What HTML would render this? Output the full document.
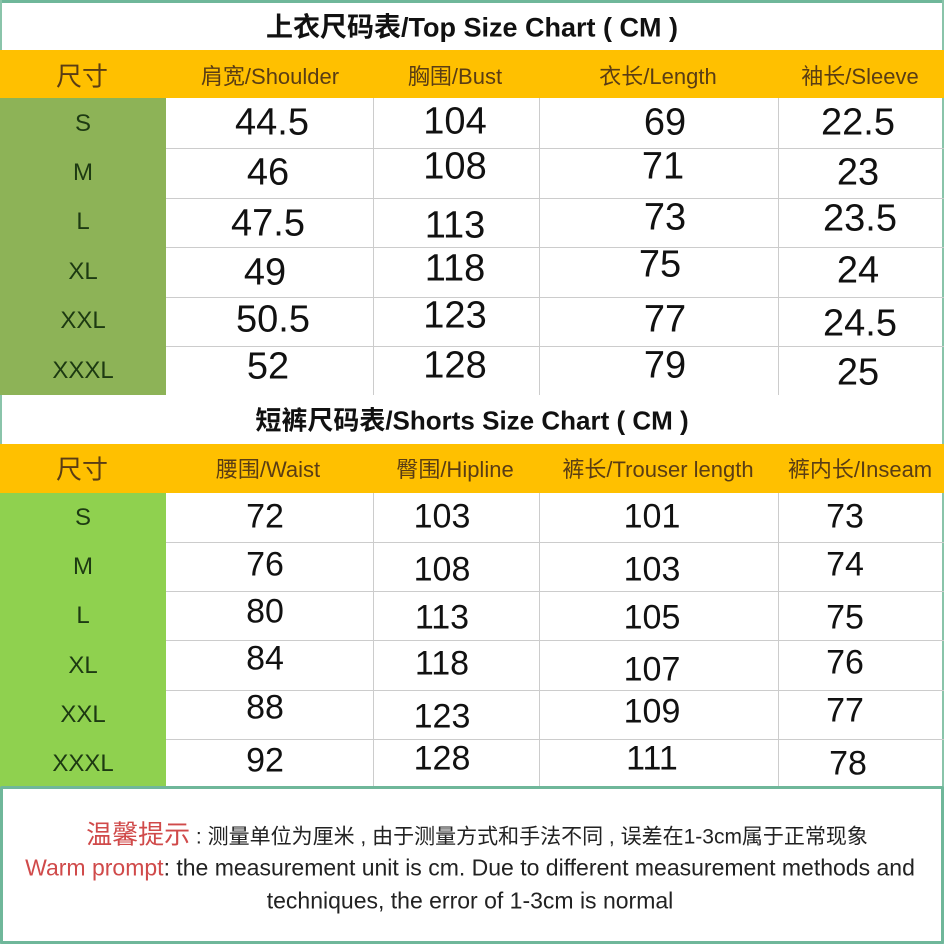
<!DOCTYPE html>
<html><head><meta charset="utf-8"><style>
body{margin:0;width:944px;height:944px;position:relative;background:#fff;overflow:hidden;font-family:"Liberation Sans","Noto Sans CJK SC",sans-serif}
.a{position:absolute;transform:translate(-50%,-50%);white-space:nowrap;color:#111}
.r{position:absolute}
.v{font-size:38px}
.w{font-size:34px}
.h{font-size:22px;color:#5a3d14}
.s{font-size:24px;color:#1d3a12}
</style></head><body>
<div class="r" style="left:0;top:0;width:944px;height:3px;background:#6fb79a"></div>
<div class="r" style="left:0;top:0;width:2px;height:944px;background:#8ac4aa"></div>
<div class="r" style="right:0;top:0;width:2px;height:944px;background:#8ac4aa"></div>
<div class="r" style="left:0;top:50px;width:944px;height:48px;background:#ffc000"></div>
<div class="r" style="left:0;top:98px;width:166px;height:297px;background:#8db357"></div>
<div class="r" style="left:0;top:444px;width:944px;height:49px;background:#ffc000"></div>
<div class="r" style="left:0;top:493px;width:166px;height:295px;background:#8fd14f"></div>
<div class="r" style="left:373px;top:98px;width:1px;height:297px;background:#ccc"></div>
<div class="r" style="left:539px;top:98px;width:1px;height:297px;background:#ccc"></div>
<div class="r" style="left:778px;top:98px;width:1px;height:297px;background:#ccc"></div>
<div class="r" style="left:373px;top:493px;width:1px;height:295px;background:#ccc"></div>
<div class="r" style="left:539px;top:493px;width:1px;height:295px;background:#ccc"></div>
<div class="r" style="left:778px;top:493px;width:1px;height:295px;background:#ccc"></div>
<div class="r" style="left:166px;top:148px;width:778px;height:1px;background:#ccc"></div>
<div class="r" style="left:166px;top:198px;width:778px;height:1px;background:#ccc"></div>
<div class="r" style="left:166px;top:247px;width:778px;height:1px;background:#ccc"></div>
<div class="r" style="left:166px;top:297px;width:778px;height:1px;background:#ccc"></div>
<div class="r" style="left:166px;top:346px;width:778px;height:1px;background:#ccc"></div>
<div class="r" style="left:166px;top:542px;width:778px;height:1px;background:#ccc"></div>
<div class="r" style="left:166px;top:591px;width:778px;height:1px;background:#ccc"></div>
<div class="r" style="left:166px;top:640px;width:778px;height:1px;background:#ccc"></div>
<div class="r" style="left:166px;top:690px;width:778px;height:1px;background:#ccc"></div>
<div class="r" style="left:166px;top:739px;width:778px;height:1px;background:#ccc"></div>

<div class="a" style="left:472px;top:25px;font-size:27px;font-weight:bold">上衣尺码表/Top Size Chart ( CM )</div>
<div class="a h" style="left:82px;top:75px;font-size:26px">尺寸</div>
<div class="a h" style="left:270px;top:75px">肩宽/Shoulder</div>
<div class="a h" style="left:455px;top:75px">胸围/Bust</div>
<div class="a h" style="left:658px;top:75px">衣长/Length</div>
<div class="a h" style="left:860px;top:75px">袖长/Sleeve</div>
<div class="a s" style="left:83px;top:124px">S</div>
<div class="a s" style="left:83px;top:173px">M</div>
<div class="a s" style="left:83px;top:222px">L</div>
<div class="a s" style="left:83px;top:272px">XL</div>
<div class="a s" style="left:83px;top:321px">XXL</div>
<div class="a s" style="left:83px;top:371px">XXXL</div>
<div class="a v" style="left:272px;top:123px">44.5</div><div class="a v" style="left:455px;top:122px">104</div><div class="a v" style="left:665px;top:123px">69</div><div class="a v" style="left:858px;top:123px">22.5</div>
<div class="a v" style="left:268px;top:173px">46</div><div class="a v" style="left:455px;top:167px">108</div><div class="a v" style="left:663px;top:167px">71</div><div class="a v" style="left:858px;top:173px">23</div>
<div class="a v" style="left:268px;top:224px">47.5</div><div class="a v" style="left:455px;top:226px">113</div><div class="a v" style="left:665px;top:218px">73</div><div class="a v" style="left:860px;top:219px">23.5</div>
<div class="a v" style="left:265px;top:273px">49</div><div class="a v" style="left:455px;top:269px">118</div><div class="a v" style="left:660px;top:265px">75</div><div class="a v" style="left:858px;top:271px">24</div>
<div class="a v" style="left:273px;top:320px">50.5</div><div class="a v" style="left:455px;top:316px">123</div><div class="a v" style="left:665px;top:320px">77</div><div class="a v" style="left:860px;top:324px">24.5</div>
<div class="a v" style="left:268px;top:367px">52</div><div class="a v" style="left:455px;top:366px">128</div><div class="a v" style="left:665px;top:366px">79</div><div class="a v" style="left:858px;top:373px">25</div>

<div class="a" style="left:472px;top:419px;font-size:26px;font-weight:bold">短裤尺码表/Shorts Size Chart ( CM )</div>
<div class="a h" style="left:82px;top:468px;font-size:26px">尺寸</div>
<div class="a h" style="left:268px;top:468px">腰围/Waist</div>
<div class="a h" style="left:455px;top:468px">臀围/Hipline</div>
<div class="a h" style="left:658px;top:468px">裤长/Trouser length</div>
<div class="a h" style="left:860px;top:468px">裤内长/Inseam</div>
<div class="a s" style="left:83px;top:518px">S</div>
<div class="a s" style="left:83px;top:567px">M</div>
<div class="a s" style="left:83px;top:616px">L</div>
<div class="a s" style="left:83px;top:666px">XL</div>
<div class="a s" style="left:83px;top:715px">XXL</div>
<div class="a s" style="left:83px;top:764px">XXXL</div>
<div class="a w" style="left:265px;top:517px">72</div><div class="a w" style="left:442px;top:517px">103</div><div class="a w" style="left:652px;top:517px">101</div><div class="a w" style="left:845px;top:517px">73</div>
<div class="a w" style="left:265px;top:565px">76</div><div class="a w" style="left:442px;top:570px">108</div><div class="a w" style="left:652px;top:570px">103</div><div class="a w" style="left:845px;top:565px">74</div>
<div class="a w" style="left:265px;top:612px">80</div><div class="a w" style="left:442px;top:618px">113</div><div class="a w" style="left:652px;top:618px">105</div><div class="a w" style="left:845px;top:618px">75</div>
<div class="a w" style="left:265px;top:659px">84</div><div class="a w" style="left:442px;top:664px">118</div><div class="a w" style="left:652px;top:670px">107</div><div class="a w" style="left:845px;top:663px">76</div>
<div class="a w" style="left:265px;top:708px">88</div><div class="a w" style="left:442px;top:717px">123</div><div class="a w" style="left:652px;top:712px">109</div><div class="a w" style="left:845px;top:711px">77</div>
<div class="a w" style="left:265px;top:761px">92</div><div class="a w" style="left:442px;top:759px">128</div><div class="a w" style="left:652px;top:759px">111</div><div class="a w" style="left:848px;top:764px">78</div>

<div class="r" style="left:0;top:786px;width:938px;height:152px;border:3px solid #6fb79a;box-sizing:content-box;border-radius:2px"></div>
<div class="a" style="left:477px;top:833px;font-size:21px;color:#222"><span style="color:#d04a4a;font-size:26px">温馨提示</span> : 测量单位为厘米 , 由于测量方式和手法不同 , 误差在1-3cm属于正常现象</div>
<div class="a" style="left:470px;top:868px;font-size:23px;color:#222"><span style="color:#d04a4a">Warm prompt</span>: the measurement unit is cm. Due to different measurement methods and</div>
<div class="a" style="left:470px;top:901px;font-size:23px;color:#222">techniques, the error of 1-3cm is normal</div>
</body></html>
